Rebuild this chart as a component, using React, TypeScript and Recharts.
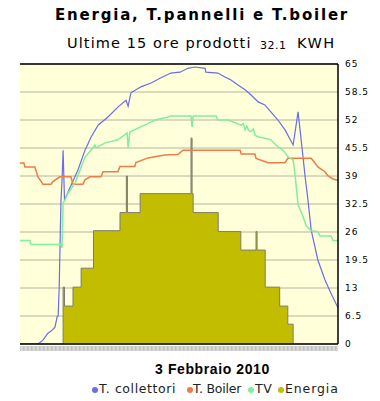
import React from 'react';
import { ComposedChart, Line, Area, XAxis, YAxis, CartesianGrid, ReferenceLine } from 'recharts';

// minutes since start of the 15-hour window, value
const collettori: [number, number][] = [
  [0, 0], [51, 0], [65, 0.9], [79, 2.5], [88, 3.0], [99, 3.9], [105, 6.3], [108, 6.5], [111, 13.3],
  [114, 25.7], [116, 33.4], [119, 38], [122, 45], [126, 33.4], [136, 35.3], [164, 40.4], [184, 45],
  [201, 48], [221, 50.8], [249, 52.7], [277, 55], [300, 56.6], [306, 55.2], [314, 58.3], [342, 59.7],
  [371, 60.6], [399, 61.8], [427, 62.9], [453, 63.1], [475, 64], [495, 64.3], [524, 64], [526, 63.1],
  [560, 62.9], [580, 62], [597, 61.3], [617, 60.1], [637, 59], [654, 57.8], [674, 56.2], [693, 55.5],
  [710, 53.9], [730, 52], [750, 49.7], [773, 46.2], [787, 53.9], [798, 45.7], [807, 38.8], [815, 33.4],
  [824, 26.5], [843, 19.5], [863, 14.9], [880, 11.8], [900, 8.4],
];

const boiler: [number, number][] = [
  [0, 42], [11, 42], [14, 41.1], [42, 41.1], [51, 38.8], [65, 37.1], [88, 37.1], [93, 37.7], [113, 38.8],
  [144, 38.8], [150, 37.1], [178, 37.1], [184, 38.1], [198, 38.8], [229, 38.8], [235, 40], [277, 40],
  [283, 41.2], [325, 41.2], [328, 42.1], [362, 43.2], [410, 43.9], [447, 44], [461, 45], [623, 45],
  [626, 44.1], [665, 44.1], [668, 43.1], [702, 42.1], [750, 42.1], [758, 43.1], [824, 43.1], [835, 42],
  [843, 41.1], [863, 40], [872, 39], [886, 38.3], [900, 38],
];

const tv: [number, number][] = [
  [0, 24], [28, 24], [31, 23.1], [116, 23.1], [119, 22.3], [122, 32.7], [127, 33.4], [136, 35], [156, 37.4],
  [184, 43.4], [201, 45], [212, 46.2], [215, 45.5], [241, 46.7], [277, 47.4], [303, 49], [306, 45.5],
  [311, 49.2], [334, 50.1], [371, 51.5], [382, 52], [410, 52.5], [427, 52.9], [484, 52.9], [487, 50.4],
  [490, 52.9], [555, 52.9], [560, 52], [589, 52], [626, 50.8], [632, 51.2], [637, 49.7], [642, 50.6],
  [647, 49.6], [654, 49.3], [660, 49.9], [666, 48.4], [674, 48.1], [696, 47.7], [710, 47.4], [724, 46.2],
  [744, 45], [758, 43.5], [773, 42.7], [778, 39.7], [787, 32.3], [801, 29.6], [809, 27.6], [824, 26.3],
  [843, 26.1], [849, 25.1], [880, 25.1], [886, 24], [900, 24],
];

const energia: [number, number][] = [
  [122, 0], [122, 13.2], [126, 8.8], [150, 13.2], [173, 17.6], [208, 26.3], [283, 30.5], [301, 39],
  [304, 30.5], [340, 34.9], [484, 47.8], [487, 34.9], [490, 30.5], [561, 26.1], [625, 21.8], [668, 26.1],
  [671, 21.8], [694, 13.2], [735, 8.8], [758, 4.6], [773, 0],
];

const yTicks = [0, 6.5, 13, 19.5, 26, 32.5, 39, 45.5, 52, 58.5, 65];

const seriesNames = ['T. collettori', 'T. Boiler', 'TV', 'Energia'];
const seriesColors = ['#6b6bf0', '#f07a48', '#80eea0', '#c2bd00'];

const toRows = (pairs: [number, number][]) => pairs.map(([t, v]) => ({ t, v }));

const FONT = '"DejaVu Sans", Verdana, sans-serif';

export default function App() {
  const legendDot = [92, 187, 248, 278];
  const legendText = [99, 193, 255, 285];
  const legendSpacing = [0.6, -0.2, 0.5, 0.9];
  return (
    <div style={{ position: 'absolute', left: 0, top: 0, width: 380, height: 401, background: '#fff', fontFamily: FONT, overflow: 'hidden' }}>
      <div style={{ position: 'absolute', left: 55, top: 8, fontSize: 15, fontWeight: 'bold', lineHeight: 1, letterSpacing: 1.8, whiteSpace: 'nowrap', color: '#000' }}>
        Energia, T.pannelli e T.boiler
      </div>
      <div style={{ position: 'absolute', left: 67, top: 36, fontSize: 14.5, lineHeight: 1, letterSpacing: 1.1, whiteSpace: 'nowrap', color: '#000' }}>
        Ultime 15 ore prodotti
      </div>
      <div style={{ position: 'absolute', left: 260, top: 39.5, fontSize: 11, lineHeight: 1, letterSpacing: 0.5, whiteSpace: 'nowrap', color: '#000' }}>
        32.1
      </div>
      <div style={{ position: 'absolute', left: 297, top: 36, fontSize: 14.5, lineHeight: 1, letterSpacing: 1.5, whiteSpace: 'nowrap', color: '#000' }}>
        KWH
      </div>

      <div style={{ position: 'absolute', left: 0, top: 0 }}>
        <ComposedChart width={380} height={350} margin={{ top: 64, right: 0, bottom: 0, left: 20 }}>
          <CartesianGrid vertical={false} stroke="#b4b4a0" fill="#ffffd9" />
          <XAxis
            type="number"
            dataKey="t"
            domain={[0, 900]}
            tick={false}
            tickLine={false}
            axisLine={{ stroke: '#000', strokeWidth: 1.5 }}
            height={6}
            allowDataOverflow
          />
          <YAxis
            orientation="right"
            type="number"
            domain={[0, 65]}
            ticks={yTicks}
            interval={0}
            width={42}
            axisLine={{ stroke: '#000', strokeWidth: 1.5 }}
            tickLine={false}
            tickMargin={1}
            tick={{ fill: '#000', fontSize: 9, fontFamily: FONT, style: { letterSpacing: 1 } }}
            allowDataOverflow
          />
          <ReferenceLine y={65} stroke="#000" strokeWidth={1.5} />
          <Line data={toRows(collettori)} dataKey="v" name={seriesNames[0]} stroke={seriesColors[0]} strokeWidth={1.2} dot={false} isAnimationActive={false} type="linear" />
          <Line data={toRows(boiler)} dataKey="v" name={seriesNames[1]} stroke={seriesColors[1]} strokeWidth={1.5} dot={false} isAnimationActive={false} type="linear" />
          <Line data={toRows(tv)} dataKey="v" name={seriesNames[2]} stroke={seriesColors[2]} strokeWidth={1.5} dot={false} isAnimationActive={false} type="linear" />
          <Area data={toRows(energia)} dataKey="v" name={seriesNames[3]} type="stepAfter" stroke="#7c7c70" strokeWidth={1} fill={seriesColors[3]} fillOpacity={1} isAnimationActive={false} baseValue={0} />
        </ComposedChart>
      </div>

      <div style={{ position: 'absolute', left: 20, top: 346, width: 318, height: 5, background: 'repeating-linear-gradient(90deg, #c4c4c4 0px, #e0e0e0 2px, #b8b8b8 4px)' }} />

      <div style={{ position: 'absolute', left: 155, top: 362, fontSize: 14, fontWeight: 'bold', lineHeight: 1, letterSpacing: 0.6, fontFamily: '"Liberation Sans", Arial, sans-serif', whiteSpace: 'nowrap', color: '#000' }}>
        3 Febbraio 2010
      </div>

      {seriesNames.map((name, i) => (
        <React.Fragment key={name}>
          <span style={{ position: 'absolute', left: legendDot[i], top: 386.5, width: 6, height: 6, borderRadius: 3, background: seriesColors[i] }} />
          <span style={{ position: 'absolute', left: legendText[i], top: 383, fontSize: 12.5, lineHeight: 1, letterSpacing: legendSpacing[i], color: '#222', whiteSpace: 'nowrap' }}>{name}</span>
        </React.Fragment>
      ))}
    </div>
  );
}
